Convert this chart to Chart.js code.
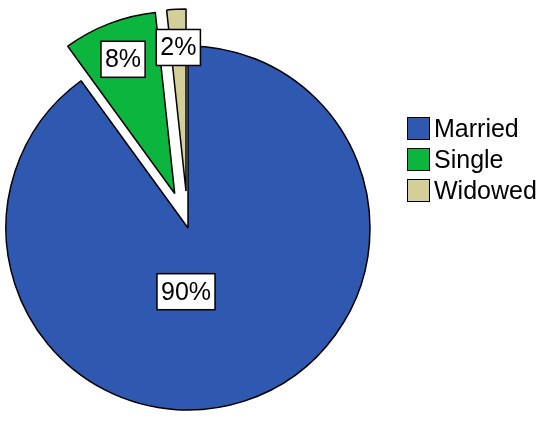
<!DOCTYPE html>
<html>
<head>
<meta charset="utf-8">
<script src="https://cdn.jsdelivr.net/npm/chart.js@4.4.0/dist/chart.umd.min.js"></script>
<style>
  body { margin: 0; background: #fff; }
  #wrap { position: relative; width: 550px; height: 421px; }
  #legend { position: absolute; left: 407px; top: 113px; font-family: "Liberation Sans", Arial, sans-serif; font-size: 25px; color: #000; }
  .row { display: flex; align-items: center; height: 31px; }
  .box { width: 23px; height: 23px; box-sizing: border-box; border: 1.5px solid #000; margin-right: 4px; }
</style>
</head>
<body>
<div id="wrap">
  <canvas id="pie" width="550" height="421"></canvas>
  <div id="legend"></div>
</div>
<script>
// marital status shares (percent)
const labels = ["Married", "Single", "Widowed"];
const values = [90.0, 8.3, 1.7];
const colors = ["#2f58b1", "#0cb53d", "#d4cf98"];
const exploded = [false, true, true];

const total = values.reduce((a, b) => a + b, 0);

// push exploded slices out along their middle angle
const explodePlugin = {
  id: "explode",
  afterDatasetsUpdate(chart) {
    const meta = chart.getDatasetMeta(0);
    meta.data.forEach((arc, i) => {
      if (!exploded[i]) return;
      const mid = (arc.startAngle + arc.endAngle) / 2;
      arc.x += Math.cos(mid) * 37;
      arc.y += Math.sin(mid) * 37;
    });
  }
};

// white boxed percentage labels
const labelPlugin = {
  id: "boxLabels",
  afterDatasetsDraw(chart) {
    const ctx = chart.ctx;
    const meta = chart.getDatasetMeta(0);
    ctx.save();
    ctx.font = "25px 'Liberation Sans', Arial, sans-serif";
    ctx.textAlign = "center";
    ctx.textBaseline = "middle";
    meta.data.forEach((arc, i) => {
      const pct = Math.round(values[i] / total * 100) + "%";
      let x, y;
      if (values[i] / total > 0.5) {
        x = arc.x - 2;
        y = arc.y + arc.outerRadius * 0.35;
      } else {
        const mid = (arc.startAngle + arc.endAngle) / 2;
        x = arc.x + Math.cos(mid) * arc.outerRadius * 0.79;
        y = arc.y + Math.sin(mid) * arc.outerRadius * 0.79;
      }
      const w = ctx.measureText(pct).width + 8;
      const h = 36;
      ctx.fillStyle = "#fff";
      ctx.fillRect(x - w / 2, y - h / 2, w, h);
      ctx.lineWidth = 1.5;
      ctx.strokeStyle = "#000";
      ctx.strokeRect(x - w / 2, y - h / 2, w, h);
      ctx.fillStyle = "#000";
      ctx.fillText(pct, x, y + 1);
    });
    ctx.restore();
  }
};

new Chart(document.getElementById("pie"), {
  type: "pie",
  data: {
    labels: labels,
    datasets: [{
      data: values,
      backgroundColor: colors,
      borderColor: "#000",
      borderWidth: 1.5
    }]
  },
  options: {
    responsive: false,
    animation: false,
    radius: 182,
    layout: { padding: { left: 0, right: 174, top: 35, bottom: 0 } },
    plugins: {
      legend: { display: false },
      tooltip: { enabled: false }
    }
  },
  plugins: [explodePlugin, labelPlugin]
});

// legend
const legend = document.getElementById("legend");
labels.forEach((name, i) => {
  const row = document.createElement("div");
  row.className = "row";
  row.innerHTML = `<div class="box" style="background:${colors[i]}"></div><span>${name}</span>`;
  legend.appendChild(row);
});
</script>
</body>
</html>
